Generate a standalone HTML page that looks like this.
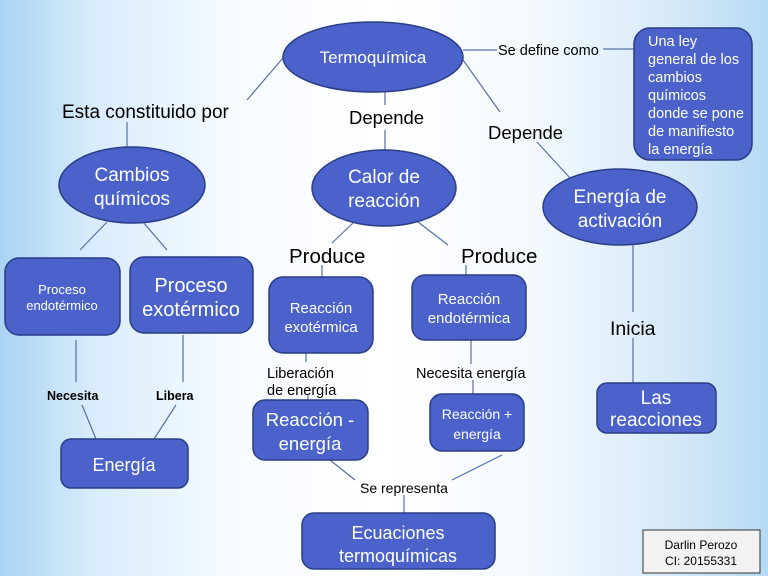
<!DOCTYPE html>
<html><head><meta charset="utf-8"><style>
html,body{margin:0;padding:0;width:768px;height:576px;overflow:hidden}
body{background:linear-gradient(90deg,#a9d3f4 0%,#d8ecfb 12%,#f6fbff 30%,#ffffff 50%,#f3f9fe 70%,#d5e9f8 88%,#b6daf4 100%);font-family:"Liberation Sans",sans-serif}
svg text{font-family:"Liberation Sans",sans-serif}
.n{fill:#4a62c9;stroke:#2a3d86;stroke-width:1.5}
.w{fill:#fff}
.k{fill:#000}
line{stroke:#5670a8;stroke-width:1.2}
</style></head><body>
<svg width="768" height="576" viewBox="0 0 768 576" xmlns="http://www.w3.org/2000/svg">
<line x1="283" y1="58" x2="247" y2="100"/>
<line x1="127" y1="122" x2="127" y2="147"/>
<line x1="385" y1="92" x2="385" y2="105"/>
<line x1="385" y1="130" x2="385" y2="150"/>
<line x1="463" y1="60" x2="500" y2="112"/>
<line x1="537" y1="142" x2="570" y2="178"/>
<line x1="463" y1="50" x2="497" y2="50"/>
<line x1="603" y1="49" x2="634" y2="49"/>
<line x1="107" y1="222" x2="80" y2="250"/>
<line x1="143" y1="222" x2="167" y2="250"/>
<line x1="353" y1="223" x2="332" y2="243"/>
<line x1="418" y1="222" x2="448" y2="245"/>
<line x1="322" y1="265" x2="322" y2="277"/>
<line x1="466" y1="265" x2="466" y2="275"/>
<line x1="306" y1="353" x2="306" y2="362"/>
<line x1="308" y1="395" x2="308" y2="400"/>
<line x1="471" y1="340" x2="471" y2="364"/>
<line x1="473" y1="380" x2="473" y2="394"/>
<line x1="633" y1="245" x2="633" y2="312"/>
<line x1="633" y1="338" x2="633" y2="383"/>
<line x1="76" y1="340" x2="76" y2="382"/>
<line x1="183" y1="335" x2="183" y2="382"/>
<line x1="82" y1="405" x2="96" y2="439"/>
<line x1="176" y1="405" x2="154" y2="439"/>
<line x1="330" y1="460" x2="355" y2="480"/>
<line x1="452" y1="480" x2="502" y2="455"/>
<line x1="404" y1="495" x2="404" y2="513"/>
<ellipse class="n" cx="373" cy="57" rx="90" ry="35"/>
<text class="w" x="373" y="63" text-anchor="middle" font-size="17">Termoquímica</text>
<rect class="n" x="634" y="28" width="118" height="132" rx="16"/>
<g class="w" font-size="14.5">
<text x="648" y="46">Una ley</text>
<text x="648" y="64">general de los</text>
<text x="648" y="82">cambios</text>
<text x="648" y="100">químicos</text>
<text x="648" y="118">donde se pone</text>
<text x="648" y="136">de manifiesto</text>
<text x="648" y="154">la energía</text></g>
<ellipse class="n" cx="132" cy="185" rx="73" ry="38"/>
<text class="w" x="132" y="181" text-anchor="middle" font-size="19">Cambios</text>
<text class="w" x="132" y="205" text-anchor="middle" font-size="19">químicos</text>
<ellipse class="n" cx="384" cy="188" rx="72" ry="38"/>
<text class="w" x="384" y="183" text-anchor="middle" font-size="19">Calor de</text>
<text class="w" x="384" y="207" text-anchor="middle" font-size="19">reacción</text>
<ellipse class="n" cx="620" cy="207" rx="77" ry="38"/>
<text class="w" x="620" y="203" text-anchor="middle" font-size="19">Energía de</text>
<text class="w" x="620" y="227" text-anchor="middle" font-size="19">activación</text>
<rect class="n" x="5" y="258" width="115" height="77" rx="14"/>
<text class="w" x="62" y="294" text-anchor="middle" font-size="13">Proceso</text>
<text class="w" x="62" y="310" text-anchor="middle" font-size="13">endotérmico</text>
<rect class="n" x="130" y="257" width="123" height="76" rx="14"/>
<text class="w" x="191" y="292" text-anchor="middle" font-size="20">Proceso</text>
<text class="w" x="191" y="316" text-anchor="middle" font-size="20">exotérmico</text>
<rect class="n" x="269" y="277" width="104" height="76" rx="14"/>
<text class="w" x="321" y="313" text-anchor="middle" font-size="15">Reacción</text>
<text class="w" x="321" y="332" text-anchor="middle" font-size="15">exotérmica</text>
<rect class="n" x="412" y="275" width="114" height="65" rx="13"/>
<text class="w" x="469" y="304" text-anchor="middle" font-size="15">Reacción</text>
<text class="w" x="469" y="323" text-anchor="middle" font-size="15">endotérmica</text>
<rect class="n" x="253" y="400" width="115" height="60" rx="12"/>
<text class="w" x="310" y="426" text-anchor="middle" font-size="18.5">Reacción -</text>
<text class="w" x="310" y="450" text-anchor="middle" font-size="18.5">energía</text>
<rect class="n" x="430" y="394" width="94" height="57" rx="12"/>
<text class="w" x="477" y="419" text-anchor="middle" font-size="14">Reacción +</text>
<text class="w" x="477" y="439" text-anchor="middle" font-size="14">energía</text>
<rect class="n" x="597" y="383" width="119" height="50" rx="10"/>
<text class="w" x="656" y="404" text-anchor="middle" font-size="19">Las</text>
<text class="w" x="656" y="426" text-anchor="middle" font-size="19">reacciones</text>
<rect class="n" x="61" y="439" width="127" height="49" rx="10"/>
<text class="w" x="124" y="471" text-anchor="middle" font-size="18">Energía</text>
<rect class="n" x="302" y="513" width="193" height="56" rx="12"/>
<text class="w" x="398" y="539" text-anchor="middle" font-size="18">Ecuaciones</text>
<text class="w" x="398" y="562" text-anchor="middle" font-size="18">termoquímicas</text>
<rect x="643" y="530" width="117" height="43" fill="#f2f2f2" stroke="#333" stroke-width="1"/>
<text x="701" y="549" text-anchor="middle" font-size="12" class="k">Darlin Perozo</text>
<text x="701" y="565" text-anchor="middle" font-size="12" class="k">CI: 20155331</text>
<text class="k" x="62" y="118" font-size="19">Esta constituido por</text>
<text class="k" x="349" y="124" font-size="18.5">Depende</text>
<text class="k" x="488" y="139" font-size="18.5">Depende</text>
<text class="k" x="498" y="55" font-size="14.5">Se define como</text>
<text class="k" x="289" y="263" font-size="20.5">Produce</text>
<text class="k" x="461" y="263" font-size="20.5">Produce</text>
<text class="k" x="610" y="335" font-size="19.5">Inicia</text>
<text class="k" x="267" y="378" font-size="14.5">Liberación</text>
<text class="k" x="267" y="395" font-size="14.5">de energía</text>
<text class="k" x="416" y="378" font-size="14.5">Necesita energía</text>
<text class="k" x="47" y="400" font-size="12.5" font-weight="bold">Necesita</text>
<text class="k" x="156" y="400" font-size="12.5" font-weight="bold">Libera</text>
<text class="k" x="360" y="493" font-size="14">Se representa</text>
</svg>
</body></html>
